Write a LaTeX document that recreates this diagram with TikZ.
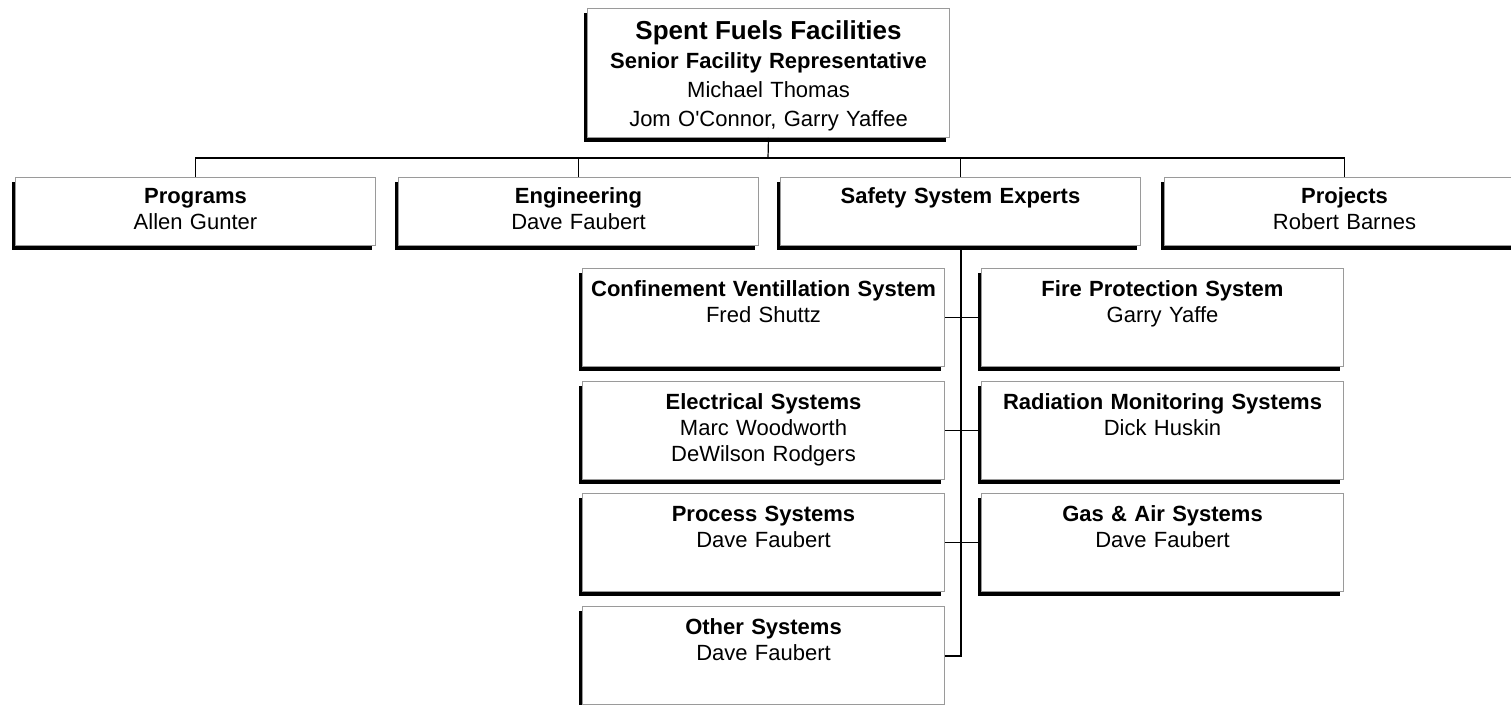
\documentclass[tikz,border=0pt]{standalone}
\usepackage{fontspec}
\setmainfont{Liberation Sans}
\usetikzlibrary{shadows}
\definecolor{rimgray}{HTML}{9A9A9A}

\begin{document}
\begin{tikzpicture}[x=1pt, y=-1pt,
  unit/.style={draw=rimgray, line width=1pt, fill=white, inner sep=0pt,
    text width=362pt, align=center, anchor=north west,
    font=\fontsize{22}{26}\selectfont,
    drop shadow={shadow xshift=-4pt, shadow yshift=-4pt, opacity=1, fill=black}},
  headunit/.style={unit, text width=360pt, text height=26pt, text depth=42pt},
  subunit/.style={unit, text height=28pt, text depth=70pt},
  link/.style={draw=black, line width=1.2pt},
  spine/.style={draw=black, line width=2pt}]

% Canvas
\useasboundingbox (0,0) rectangle (1511,704);

% Top of the chart
\node[unit, text height=31pt, text depth=98pt, font=\fontsize{22}{29}\selectfont] (sff) at (587,8)
  {{\fontsize{26}{29}\selectfont\bfseries Spent Fuels Facilities}\\
   \textbf{Senior Facility Representative}\\
   Michael Thomas\\
   Jom O\textquotesingle Connor, Garry Yaffee};

% Second row
\node[headunit] (prog) at (15,177)   {\textbf{Programs}\\ Allen Gunter};
\node[headunit] (eng)  at (398,177)  {\textbf{Engineering}\\ Dave Faubert};
\node[headunit] (safe) at (780,177)  {\textbf{Safety System Experts}};
\node[headunit] (proj) at (1164,177) {\textbf{Projects}\\ Robert Barnes};

% Safety system experts, left column
\node[subunit] (conf)  at (582,268) {\textbf{Confinement Ventillation System}\\ Fred Shuttz};
\node[subunit] (elec)  at (582,381) {\textbf{Electrical Systems}\\ Marc Woodworth\\ DeWilson Rodgers};
\node[subunit] (proc)  at (582,493) {\textbf{Process Systems}\\ Dave Faubert};
\node[subunit] (other) at (582,606) {\textbf{Other Systems}\\ Dave Faubert};

% Safety system experts, right column
\node[subunit] (fire) at (981,268) {\textbf{Fire Protection System}\\ Garry Yaffe};
\node[subunit] (radi) at (981,381) {\textbf{Radiation Monitoring Systems}\\ Dick Huskin};
\node[subunit] (gas)  at (981,493) {\textbf{Gas \& Air Systems}\\ Dave Faubert};

% Bus under the top box
\coordinate (bus) at (768,158);
\draw[link] (sff.south) -- (bus);
\foreach \n in {prog,eng,safe,proj}
  \draw[link] (bus) -| (\n.north);

% Spine and cross links
\draw[spine] (safe.south) |- (other.east);
\draw[link] (conf.east) -- (fire.west);
\draw[link] (elec.east) -- (radi.west);
\draw[link] (proc.east) -- (gas.west);

\end{tikzpicture}
\end{document}
